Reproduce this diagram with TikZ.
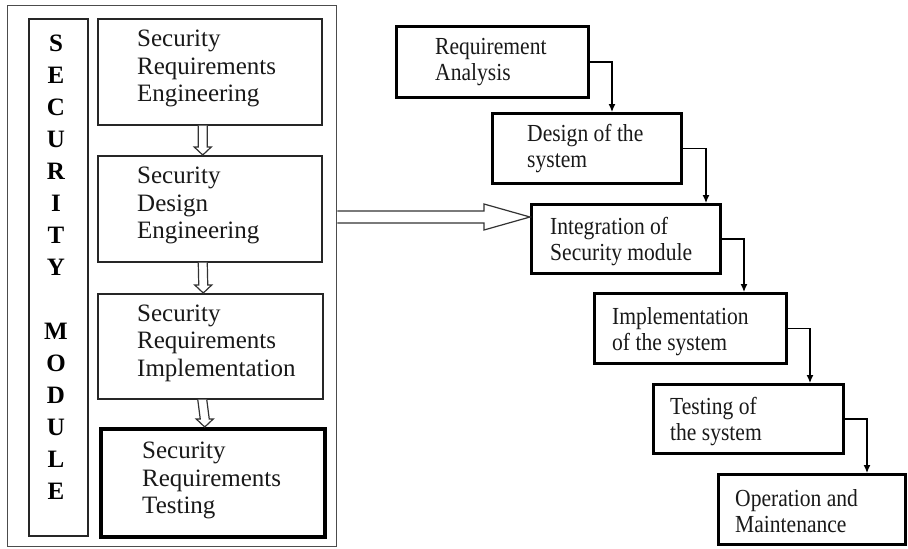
\documentclass[tikz,border=0pt]{standalone}
\usepackage{fontspec}
\setmainfont{Liberation Serif}
\newfontfamily\narrowserif[FakeStretch=0.88]{Liberation Serif}
\usetikzlibrary{calc,arrows.meta}

\tikzset{
  panel/.style={draw=black!70, line width=1.4pt, fill=white, inner sep=0pt, anchor=north west},
  thinbox/.style={draw=black!85, line width=1.5pt, inner sep=0pt, anchor=north west},
  thickbox/.style={draw=black, line width=3pt, inner sep=0pt, anchor=north west},
  lefttext/.style={anchor=west, align=left, inner sep=0pt, text=black!90,
    font=\fontsize{25}{27.5}\selectfont},
  righttext/.style={anchor=west, align=left, inner sep=0pt, text=black!90,
    font=\narrowserif\fontsize{24.5}{26}\selectfont},
  flow/.style={line width=1.3pt, black, -{Latex[length=8pt,width=7pt]}},
  hollow/.style={draw=black!80, line width=1.2pt, fill=white, line join=miter},
}

% hollow downward arrow between two stacked boxes (x offset from box centre)
\newcommand{\hollowdown}[3]{%
  \coordinate (#1-s) at ($(#1.south)+(#3,0)$);
  \coordinate (#2-t) at ($(#2.north)+(#3,0)$);
  \draw[hollow] ($(#1-s)+(-4.5,0)$) -- ($(#2-t)+(-4.5,-8)$) -- ($(#2-t)+(-8.5,-8)$)
    -- (#2-t) -- ($(#2-t)+(8.5,-8)$) -- ($(#2-t)+(4.5,-8)$) -- ($(#1-s)+(4.5,0)$);}

\begin{document}
\begin{tikzpicture}[x=1pt,y=-1pt]
\useasboundingbox[fill=white] (0,0) rectangle (908,549);

% ---- security module panel ----
\node[panel, minimum width=329pt, minimum height=541pt] (outer) at (7,5) {};
\node[thinbox, minimum width=59pt, minimum height=517pt] (col) at (28,18) {};
\node[anchor=center, align=center, inner sep=0pt, text=black,
      font=\fontsize{25}{32}\selectfont\bfseries] (coltext) at (56,267)
  {S\\E\\C\\U\\R\\I\\T\\Y\\\mbox{}\\M\\O\\D\\U\\L\\E};

\node[thinbox, minimum width=224pt, minimum height=106pt] (b1) at (97,18) {};
\node[thinbox, minimum width=224pt, minimum height=106pt] (b2) at (97,155) {};
\node[thinbox, minimum width=225pt, minimum height=105pt] (b3) at (97,293) {};
\node[thickbox, line width=3.5pt, minimum width=224pt, minimum height=108pt] (b4) at (99,427) {};

\node[lefttext] (t1) at ($(b1.west)+(40,-3)$) {Security\\Requirements\\Engineering};
\node[lefttext] (t2) at ($(b2.west)+(40,-3)$) {Security\\Design\\Engineering};
\node[lefttext] (t3) at ($(b3.west)+(40,-3)$) {Security\\Requirements\\Implementation};
\node[lefttext] (t4) at ($(b4.west)+(43,-2)$) {Security\\Requirements\\Testing};

\hollowdown{b1}{b2}{-7}
\hollowdown{b2}{b3}{-7}
\hollowdown{b3}{b4}{-8}

% ---- development process ----
\node[thickbox, minimum width=192pt, minimum height=71pt] (ra) at (395,25) {};
\node[thickbox, minimum width=189pt, minimum height=70pt] (design) at (491,112) {};
\node[thickbox, minimum width=189pt, minimum height=69pt] (integ) at (530,203) {};
\node[thickbox, minimum width=192pt, minimum height=70pt] (impl) at (593,292) {};
\node[thickbox, minimum width=190pt, minimum height=69pt] (test) at (652,383) {};
\node[thickbox, line width=2.6pt, minimum width=187pt, minimum height=70pt] (op) at (717,473) {};

\node[righttext] (rat) at ($(ra.west)+(40,0)$) {Requirement\\Analysis};
\node[righttext] (dest) at ($(design.west)+(36,0)$) {Design of the\\system};
\node[righttext] (intt) at ($(integ.west)+(20,3)$) {Integration of\\Security module};
\node[righttext] (impt) at ($(impl.west)+(19,3)$) {Implementation\\of the system};
\node[righttext] (tstt) at ($(test.west)+(18,3)$) {Testing of\\the system};
\node[righttext] (opt) at ($(op.west)+(18,2)$) {Operation and\\Maintenance};

\draw[flow] (ra.east) -| ($(design.north west)+(121,0)$);
\draw[flow] (design.east) -| ($(integ.north west)+(176,0)$);
\draw[flow] (integ.east) -| ($(impl.north west)+(151,0)$);
\draw[flow] (impl.east) -| ($(test.north west)+(158,0)$);
\draw[flow] (test.east) -| ($(op.north west)+(150,0)$);

% ---- wide hollow arrow into the integration step ----
\coordinate (tip) at ($(integ.north west)+(0,14)$);
\coordinate (base) at (outer.east |- tip);
\draw[hollow] ($(base)+(0,-6)$) -- ($(tip)+(-46,-6)$) -- ($(tip)+(-46,-13)$) -- (tip)
  -- ($(tip)+(-46,13)$) -- ($(tip)+(-46,6)$) -- ($(base)+(0,6)$);
\end{tikzpicture}
\end{document}
